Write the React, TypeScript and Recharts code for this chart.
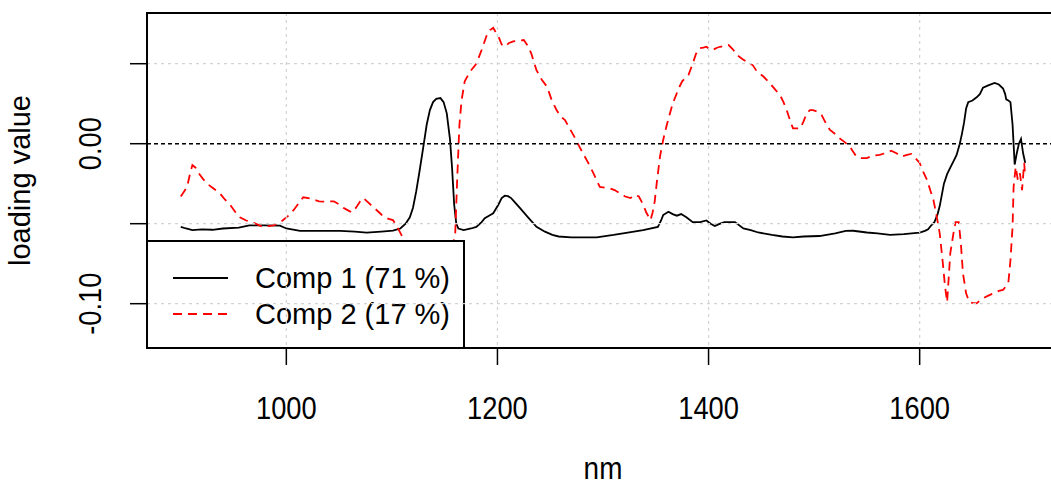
import { LineChart, Line, XAxis, YAxis, CartesianGrid, ReferenceLine, ReferenceArea } from 'recharts';

// wavelength grid + loadings
const comp1Nm = [
  900, 905, 911, 920, 930, 940, 955, 965, 980, 994, 1000, 1013, 1030, 1051, 1065, 1076, 1090, 1101, 1108, 1113,
  1117, 1120, 1123, 1126, 1130, 1133, 1136, 1139, 1142, 1146, 1149, 1152, 1155, 1157, 1159, 1161, 1163, 1168, 1175, 1180,
  1185, 1188, 1192, 1196, 1201, 1204, 1207, 1210, 1213, 1217, 1221, 1229, 1237, 1245, 1252, 1258, 1270, 1294, 1310, 1319,
  1338, 1352, 1355, 1357, 1362, 1366, 1370, 1374, 1379, 1385, 1392, 1398, 1402, 1406, 1411, 1415, 1425, 1433, 1440, 1447,
  1460, 1470, 1480, 1490, 1505, 1520, 1530, 1537, 1550, 1560, 1572, 1585, 1600, 1605, 1608, 1611, 1614, 1617, 1619, 1621,
  1623, 1626, 1629, 1632, 1635, 1638, 1640, 1642, 1644, 1646, 1650, 1654, 1657, 1660, 1665, 1671, 1675, 1679, 1681, 1682,
  1684, 1686, 1688, 1690, 1692, 1694, 1696, 1698, 1700,
];
const comp1Val = [
  -0.052, -0.053, -0.054, -0.0535, -0.0538, -0.053, -0.0525, -0.051, -0.051, -0.0512, -0.053, -0.0545, -0.0545, -0.0545, -0.055, -0.0556, -0.055, -0.0544, -0.053, -0.05,
  -0.046, -0.04, -0.03, -0.018, -0.001, 0.012, 0.021, 0.026, 0.028, 0.0285, 0.026, 0.019, 0.003, -0.015, -0.038, -0.05, -0.053, -0.054, -0.053, -0.052,
  -0.049, -0.0466, -0.045, -0.0435, -0.038, -0.034, -0.0325, -0.0328, -0.034, -0.037, -0.04, -0.046, -0.052, -0.055, -0.057, -0.058, -0.0585, -0.0585, -0.057, -0.056,
  -0.054, -0.052, -0.048, -0.0446, -0.0425, -0.044, -0.045, -0.044, -0.046, -0.049, -0.049, -0.048, -0.05, -0.0514, -0.05, -0.049, -0.049, -0.053, -0.054, -0.0555,
  -0.057, -0.058, -0.0585, -0.058, -0.0577, -0.056, -0.0545, -0.0544, -0.0555, -0.056, -0.057, -0.0565, -0.0556, -0.0545, -0.0535, -0.051, -0.049, -0.044, -0.039, -0.032,
  -0.025, -0.019, -0.015, -0.011, -0.007, 0.0, 0.006, 0.013, 0.022, 0.026, 0.027, 0.029, 0.031, 0.035, 0.0365, 0.038, 0.037, 0.0345, 0.031, 0.0277,
  0.027, 0.026, 0.012, -0.013, -0.006, 0.0, 0.003, -0.006, -0.012,
];

const comp2Nm = [
  900, 903, 906, 909, 911, 914, 917, 921, 925, 931, 937, 942, 947, 952, 956, 962, 969, 978, 983, 988,
  993, 997, 1002, 1007, 1012, 1016, 1021, 1026, 1031, 1037, 1045, 1050, 1054, 1058, 1062, 1066, 1070, 1073, 1078, 1083,
  1088, 1092, 1097, 1101, 1105, 1109, 1114, 1120, 1130, 1140, 1148, 1154, 1157, 1160, 1162, 1164, 1166, 1169, 1174, 1180,
  1185, 1190, 1193, 1196, 1199, 1201, 1204, 1207, 1211, 1215, 1220, 1225, 1229, 1232, 1235, 1237, 1242, 1247, 1251, 1256,
  1260, 1264, 1268, 1272, 1277, 1281, 1286, 1291, 1294, 1297, 1302, 1307, 1311, 1316, 1321, 1326, 1330, 1334, 1338, 1341,
  1345, 1347, 1349, 1351, 1354, 1357, 1360, 1363, 1366, 1369, 1372, 1375, 1378, 1381, 1385, 1388, 1391, 1395, 1398, 1401,
  1404, 1408, 1411, 1415, 1419, 1423, 1427, 1432, 1436, 1442, 1446, 1452, 1458, 1463, 1468, 1471, 1474, 1477, 1480, 1484,
  1487, 1490, 1493, 1496, 1499, 1503, 1507, 1511, 1515, 1520, 1524, 1529, 1534, 1537, 1540, 1545, 1550, 1555, 1562, 1567,
  1573, 1578, 1583, 1588, 1592, 1596, 1600, 1603, 1607, 1610, 1613, 1616, 1619, 1622, 1624, 1626, 1627, 1629, 1632, 1634,
  1637, 1639, 1641, 1644, 1647, 1650, 1654, 1657, 1660, 1665, 1670, 1675, 1679, 1682, 1684, 1686, 1688, 1689, 1691, 1693,
  1695, 1697, 1699, 1700,
];
const comp2Val = [
  -0.033, -0.03, -0.027, -0.018, -0.0133, -0.015, -0.0185, -0.022, -0.025, -0.028, -0.031, -0.035, -0.0385, -0.043, -0.046, -0.048, -0.0494, -0.052, -0.0515, -0.051,
  -0.0495, -0.0477, -0.045, -0.0414, -0.037, -0.0335, -0.034, -0.035, -0.036, -0.0362, -0.036, -0.038, -0.04, -0.0415, -0.043, -0.04, -0.036, -0.034, -0.037, -0.04,
  -0.043, -0.0456, -0.047, -0.0477, -0.052, -0.057, -0.064, -0.068, -0.07, -0.071, -0.072, -0.07, -0.066, -0.056, -0.02, 0.012, 0.027, 0.039, 0.045, 0.05,
  0.0586, 0.068, 0.071, 0.0725, 0.069, 0.067, 0.062, 0.0606, 0.063, 0.064, 0.0645, 0.0648, 0.061, 0.0565, 0.05, 0.046, 0.04, 0.0356, 0.028, 0.021,
  0.017, 0.0148, 0.01, 0.0054, -0.001, -0.006, -0.012, -0.0185, -0.023, -0.027, -0.0275, -0.028, -0.029, -0.031, -0.033, -0.034, -0.032, -0.033, -0.038, -0.043,
  -0.0477, -0.043, -0.036, -0.024, -0.008, 0.0023, 0.0106, 0.018, 0.025, 0.03, 0.035, 0.039, 0.041, 0.043, 0.05, 0.056, 0.0596, 0.06, 0.0606, 0.059,
  0.0586, 0.06, 0.0606, 0.061, 0.0617, 0.059, 0.0554, 0.053, 0.0513, 0.049, 0.045, 0.042, 0.0378, 0.034, 0.03, 0.026, 0.021, 0.015, 0.0096, 0.0096,
  0.0096, 0.014, 0.019, 0.021, 0.021, 0.02, 0.018, 0.013, 0.0086, 0.006, 0.0034, 0.001, -0.0019, -0.005, -0.008, -0.009, -0.009, -0.0075, -0.007, -0.006,
  -0.0044, -0.006, -0.008, -0.007, -0.0064, -0.009, -0.012, -0.017, -0.0227, -0.029, -0.035, -0.045, -0.056, -0.075, -0.089, -0.099, -0.089, -0.0685, -0.056, -0.049,
  -0.049, -0.062, -0.081, -0.0935, -0.099, -0.0995, -0.0998, -0.098, -0.0966, -0.095, -0.0935, -0.092, -0.0914, -0.089, -0.087, -0.073, -0.052, -0.027, -0.0144, -0.0227,
  -0.0185, -0.029, -0.012, -0.0206,
];

const seriesNames = ['Comp 1 (71 %)', 'Comp 2 (17 %)'];
const xTicks = [1000, 1200, 1400, 1600];
const yTicks = [-0.1, -0.05, 0, 0.05];
const yLabelled = [-0.1, 0];
const xDomain = [868, 1732];
const yDomain = [-0.1277, 0.0817];

const comp1Data = comp1Nm.map((nm, i) => ({ nm, value: comp1Val[i] }));
const comp2Data = comp2Nm.map((nm, i) => ({ nm, value: comp2Val[i] }));

const W = 1080;
const H = 488;
const FONT = '"Liberation Sans", Arial, sans-serif';

const XTick = ({ x, y, payload }: any) => (
  <text transform={`translate(${x},${y + 54}) scale(0.88,1)`} textAnchor="middle" fontSize={31} fontFamily={FONT} fill="#000">
    {payload.value}
  </text>
);

const YTick = ({ x, y, payload }: any) =>
  yLabelled.includes(payload.value) ? (
    <text transform={`translate(${x - 29},${y}) rotate(-90) scale(0.88,1)`} textAnchor="middle" fontSize={31} fontFamily={FONT} fill="#000">
      {payload.value.toFixed(2)}
    </text>
  ) : (
    <g />
  );

export default function App() {
  return (
    <div style={{ position: 'absolute', left: 0, top: 0, width: 1051, height: 488, overflow: 'hidden', background: '#fff' }}>
      {/* lines + ticks */}
      <div style={{ position: 'absolute', left: 0, top: 0 }}>
        <LineChart width={W} height={H} margin={{ top: 13, right: 21, left: 0, bottom: 0 }}>
          <XAxis
            dataKey="nm"
            type="number"
            domain={xDomain}
            ticks={xTicks}
            allowDataOverflow
            height={140}
            axisLine={false}
            tickSize={17}
            tickMargin={0}
            tickLine={{ stroke: '#000', strokeWidth: 1.5 }}
            tick={XTick}
            label={{
              content: ({ viewBox }: any) => (
                <text transform={`translate(${viewBox.x + viewBox.width / 2},${viewBox.y + 131}) scale(0.9,1)`} textAnchor="middle" fontSize={31} fontFamily={FONT} fill="#000">
                  nm
                </text>
              ),
            }}
          />
          <YAxis
            type="number"
            domain={yDomain}
            ticks={yTicks}
            allowDataOverflow
            width={147}
            axisLine={false}
            tickSize={17}
            tickMargin={0}
            tickLine={{ stroke: '#000', strokeWidth: 1.5 }}
            tick={YTick}
            label={{
              content: ({ viewBox }: any) => (
                <text transform={`translate(${viewBox.x + 30},${viewBox.y + viewBox.height / 2}) rotate(-90)`} textAnchor="middle" fontSize={29} fontFamily={FONT} fill="#000">
                  loading value
                </text>
              ),
            }}
          />
          <Line data={comp1Data} dataKey="value" stroke="#000" strokeWidth={1.8} dot={false} isAnimationActive={false} />
          <Line data={comp2Data} dataKey="value" stroke="#ff0000" strokeWidth={1.8} strokeDasharray="9 6" dot={false} isAnimationActive={false} />
        </LineChart>
      </div>

      {/* legend box */}
      <div
        style={{
          position: 'absolute',
          left: 146,
          top: 240,
          width: 319,
          height: 109,
          background: '#fff',
          border: '2px solid #000',
          boxSizing: 'border-box',
          fontFamily: FONT,
          fontSize: 29,
          color: '#000',
        }}
      >
        {seriesNames.map((name, i) => (
          <div key={name} style={{ position: 'absolute', left: 0, top: 36 * i + 16, height: 40, width: 317 }}>
            <svg width={60} height={40} style={{ position: 'absolute', left: 25, top: 0 }}>
              <line x1={0} x2={55} y1={20} y2={20} stroke={i === 0 ? '#000' : '#ff0000'} strokeWidth={1.8} strokeDasharray={i === 0 ? undefined : '9 6'} />
            </svg>
            <span style={{ position: 'absolute', left: 107, top: 20, transform: 'translateY(-50%)', whiteSpace: 'nowrap', lineHeight: 1 }}>{name}</span>
          </div>
        ))}
      </div>

      {/* grid, zero line and frame drawn last, over the legend */}
      <div style={{ position: 'absolute', left: 0, top: 0, pointerEvents: 'none' }}>
        <LineChart width={W} height={H} data={comp1Data} margin={{ top: 13, right: 21, left: 147, bottom: 140 }} style={{ background: 'transparent' }}>
          <XAxis dataKey="nm" type="number" domain={xDomain} ticks={xTicks} allowDataOverflow hide />
          <YAxis type="number" domain={yDomain} ticks={yTicks} allowDataOverflow hide />
          <CartesianGrid stroke="#d3d3d3" strokeWidth={1.2} strokeDasharray="3 4" horizontalValues={yTicks} verticalValues={xTicks} />
          <ReferenceLine y={0} stroke="#000" strokeWidth={1.6} strokeDasharray="4 3" />
          <ReferenceArea x1={xDomain[0]} x2={xDomain[1]} y1={yDomain[0]} y2={yDomain[1]} fill="none" fillOpacity={0} stroke="#000" strokeWidth={2} />
        </LineChart>
      </div>
    </div>
  );
}
